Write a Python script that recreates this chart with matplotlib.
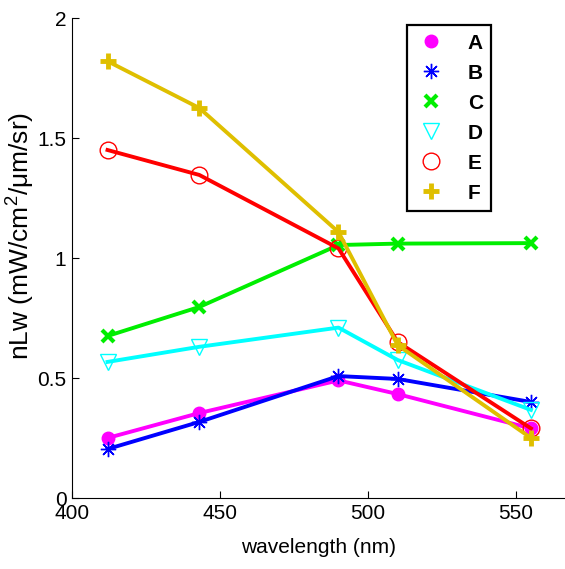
import matplotlib
matplotlib.use('Agg')
import matplotlib.pyplot as plt
from matplotlib.lines import Line2D

plt.rcParams['font.family'] = ['Liberation Sans', 'DejaVu Sans']
plt.rcParams['mathtext.fontset'] = 'custom'
plt.rcParams['mathtext.rm'] = 'Liberation Sans'
plt.rcParams['mathtext.it'] = 'Liberation Sans'

wavelength = [412, 443, 490, 510, 555]
labels = ['A', 'B', 'C', 'D', 'E', 'F']
series_a = [0.25, 0.354, 0.49, 0.433, 0.29]
series_b = [0.204, 0.317, 0.508, 0.496, 0.40]
series_c = [0.675, 0.796, 1.054, 1.06, 1.062]
series_d = [0.567, 0.63, 0.71, 0.575, 0.367]
series_e = [1.45, 1.346, 1.04, 0.65, 0.29]
series_f = [1.82, 1.625, 1.108, 0.637, 0.25]

yellow = '#dfbf00'
styles = [
    dict(color='#ff00ff', marker='o', mfc='#ff00ff', ms=9, mew=1),
    dict(color='#0000ff', marker=(8, 2, 0), mfc='none', ms=11, mew=1),
    dict(color='#00ee00', marker='x', mfc='none', ms=8, mew=3),
    dict(color='#00ffff', marker='v', mfc='none', ms=12, mew=1),
    dict(color='#ff0000', marker='o', mfc='none', ms=12, mew=1),
    dict(color=yellow, marker='+', mfc='none', ms=11, mew=3.5),
]
data = [series_a, series_b, series_c, series_d, series_e, series_f]

fig = plt.figure(figsize=(5.65, 5.69), dpi=100)
ax = fig.add_axes([72/565, 71/569, 493/565, 480/569])

handles = []
for vals, st, lab in zip(data, styles, labels):
    ax.plot(wavelength, vals, lw=2.8, **st)
    handles.append(Line2D([], [], linestyle='none', **st))

ax.set_xlim(400, 566.5)
ax.set_ylim(0, 2)
ax.set_xticks([400, 450, 500, 550])
ax.set_yticks([0, 0.5, 1, 1.5, 2])
ax.set_yticklabels(['0', '0.5', '1', '1.5', '2'])
ax.tick_params(direction='in', length=5, labelsize=15, width=0.8, pad=4)
ax.spines['top'].set_visible(False)
ax.spines['right'].set_visible(False)
ax.set_xlabel('wavelength (nm)', fontsize=15, labelpad=11)
ax.set_ylabel('nLw (mW/cm$^{\\mathrm{2}}$/μm/sr)', fontsize=19)
ax.yaxis.set_label_coords(-0.07, 0.545)

leg = ax.legend(handles, labels, loc='upper left', bbox_to_anchor=(0.68, 0.985),
                borderaxespad=0, fancybox=False, edgecolor='black', framealpha=1,
                prop={'weight': 'bold', 'size': 15}, handlelength=1.5,
                handletextpad=1.0, labelspacing=0.53, borderpad=0.4)
leg.get_frame().set_linewidth(1.6)

fig.savefig('out.png', dpi=100)
